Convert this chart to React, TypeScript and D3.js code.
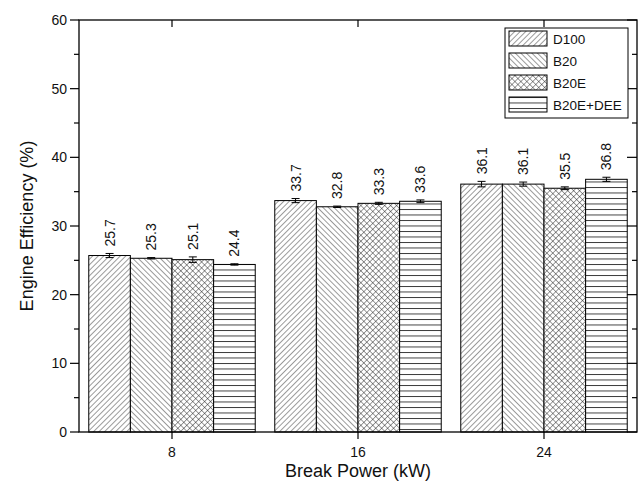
import React from "react";
import * as d3 from "d3";

// data
const categories = ["8", "16", "24"];
const seriesNames = ["D100", "B20", "B20E", "B20E+DEE"];
const d100 = [25.7, 33.7, 36.1];
const b20 = [25.3, 32.8, 36.1];
const b20e = [25.1, 33.3, 35.5];
const b20eDee = [24.4, 33.6, 36.8];
const d100Err = [0.3, 0.3, 0.4];
const b20Err = [0.1, 0.1, 0.3];
const b20eErr = [0.4, 0.15, 0.2];
const b20eDeeErr = [0.1, 0.2, 0.3];
const yTicks = [0, 10, 20, 30, 40, 50, 60];
const yMinorTicks = [5, 15, 25, 35, 45, 55];

const values = [d100, b20, b20e, b20eDee];
const errors = [d100Err, b20Err, b20eErr, b20eDeeErr];
const patternIds = ["p-fwd", "p-back", "p-cross", "p-horiz"];

const W = 638;
const H = 484;
const m = { left: 79, right: 1, top: 20, bottom: 52 };
const font = "Liberation Sans, Arimo, Arial, sans-serif";

export default function App() {
  const x = d3.scaleBand().domain(categories).range([m.left, W - m.right]).paddingInner(0.105).paddingOuter(0.0525);
  const xc = d3.scaleBand().domain(categories).range([m.left, W - m.right]);
  const xs = d3.scaleBand().domain(seriesNames).range([0, x.bandwidth()]);
  const y = d3.scaleLinear().domain([0, 60]).range([H - m.bottom, m.top]);
  const y0 = y(0);
  const right = W - m.right;

  const stroke = "#222";
  return (
    <svg width={W} height={H} style={{ position: "absolute", left: 0, top: 0, background: "#fff", fontFamily: font }}>
      <defs>
        <pattern id="p-fwd" patternUnits="userSpaceOnUse" width={3.9} height={3.9} patternTransform="rotate(45)">
          <line x1={0} y1={0} x2={0} y2={3.9} stroke={stroke} strokeWidth={0.9} />
        </pattern>
        <pattern id="p-back" patternUnits="userSpaceOnUse" width={3.9} height={3.9} patternTransform="rotate(-45)">
          <line x1={0} y1={0} x2={0} y2={3.9} stroke={stroke} strokeWidth={0.9} />
        </pattern>
        <pattern id="p-cross" patternUnits="userSpaceOnUse" width={4.2} height={4.2} patternTransform="rotate(45)">
          <line x1={0} y1={0} x2={0} y2={4.2} stroke={stroke} strokeWidth={0.9} />
          <line x1={0} y1={0} x2={4.2} y2={0} stroke={stroke} strokeWidth={0.9} />
        </pattern>
        <pattern id="p-horiz" patternUnits="userSpaceOnUse" width={8} height={5.5}>
          <line x1={0} y1={0.5} x2={8} y2={0.5} stroke={stroke} strokeWidth={0.9} />
        </pattern>
      </defs>

      {/* bars */}
      {categories.map((c, ci) => (
        <g key={c} transform={`translate(${x(c)},0)`}>
          {seriesNames.map((s, si) => {
            const v = values[si][ci];
            const e = errors[si][ci];
            const bx = xs(s)!;
            const cx = bx + xs.bandwidth() / 2;
            return (
              <g key={s}>
                <rect x={bx} y={y(v)} width={xs.bandwidth()} height={y0 - y(v)} fill="#fff" />
                <rect x={bx} y={y(v)} width={xs.bandwidth()} height={y0 - y(v)} fill={`url(#${patternIds[si]})`} stroke="#000" strokeWidth={1} />
                <line x1={cx} x2={cx} y1={y(v - e)} y2={y(v + e)} stroke="#000" strokeWidth={1} />
                <line x1={cx - 4} x2={cx + 4} y1={y(v - e)} y2={y(v - e)} stroke="#000" strokeWidth={1} />
                <line x1={cx - 4} x2={cx + 4} y1={y(v + e)} y2={y(v + e)} stroke="#000" strokeWidth={1} />
                <text transform={`translate(${cx},${y(v + e) - 7}) rotate(-90)`} fontSize={14} dominantBaseline="central" fill="#111">
                  {v.toFixed(1)}
                </text>
              </g>
            );
          })}
        </g>
      ))}

      {/* frame */}
      <rect x={m.left} y={m.top} width={right - m.left} height={y0 - m.top} fill="none" stroke="#000" strokeWidth={1.3} />

      {/* y axis ticks */}
      {yTicks.map(t => (
        <g key={t}>
          <line x1={m.left - 9} x2={m.left} y1={y(t)} y2={y(t)} stroke="#000" strokeWidth={1.2} />
          <line x1={right - 10} x2={right} y1={y(t)} y2={y(t)} stroke="#000" strokeWidth={1.2} />
          <text x={m.left - 12} y={y(t)} fontSize={14} textAnchor="end" dominantBaseline="central" fill="#111">{t}</text>
        </g>
      ))}
      {yMinorTicks.map(t => (
        <g key={t}>
          <line x1={m.left - 5} x2={m.left} y1={y(t)} y2={y(t)} stroke="#000" strokeWidth={1.2} />
          <line x1={right - 5} x2={right} y1={y(t)} y2={y(t)} stroke="#000" strokeWidth={1.2} />
        </g>
      ))}

      {/* x axis ticks */}
      {categories.map(c => {
        const cx = xc(c)! + xc.bandwidth() / 2;
        return (
          <g key={c}>
            <line x1={cx} x2={cx} y1={y0} y2={y0 + 7} stroke="#000" strokeWidth={1.2} />
            <line x1={cx} x2={cx} y1={m.top} y2={m.top + 7} stroke="#000" strokeWidth={1.2} />
            <text x={cx} y={y0 + 20} fontSize={14} textAnchor="middle" dominantBaseline="central" fill="#111">{c}</text>
          </g>
        );
      })}

      {/* axis titles */}
      <text x={(m.left + right) / 2} y={471} fontSize={18} textAnchor="middle" dominantBaseline="central" fill="#111">Break Power (kW)</text>
      <text transform={`translate(27,${(m.top + y0) / 2}) rotate(-90)`} fontSize={18} textAnchor="middle" dominantBaseline="central" fill="#111">Engine Efficiency (%)</text>

      {/* legend */}
      <g transform="translate(505,28)">
        <rect x={0} y={0} width={123} height={90} fill="#fff" stroke="#000" strokeWidth={1} />
        {seriesNames.map((s, i) => (
          <g key={s} transform={`translate(4,${3 + i * 22})`}>
            <rect x={0} y={0} width={38} height={15} fill={`url(#${patternIds[i]})`} stroke="#000" strokeWidth={1} />
            <text x={44} y={8} fontSize={13.5} dominantBaseline="central" fill="#111">{s}</text>
          </g>
        ))}
      </g>
    </svg>
  );
}
